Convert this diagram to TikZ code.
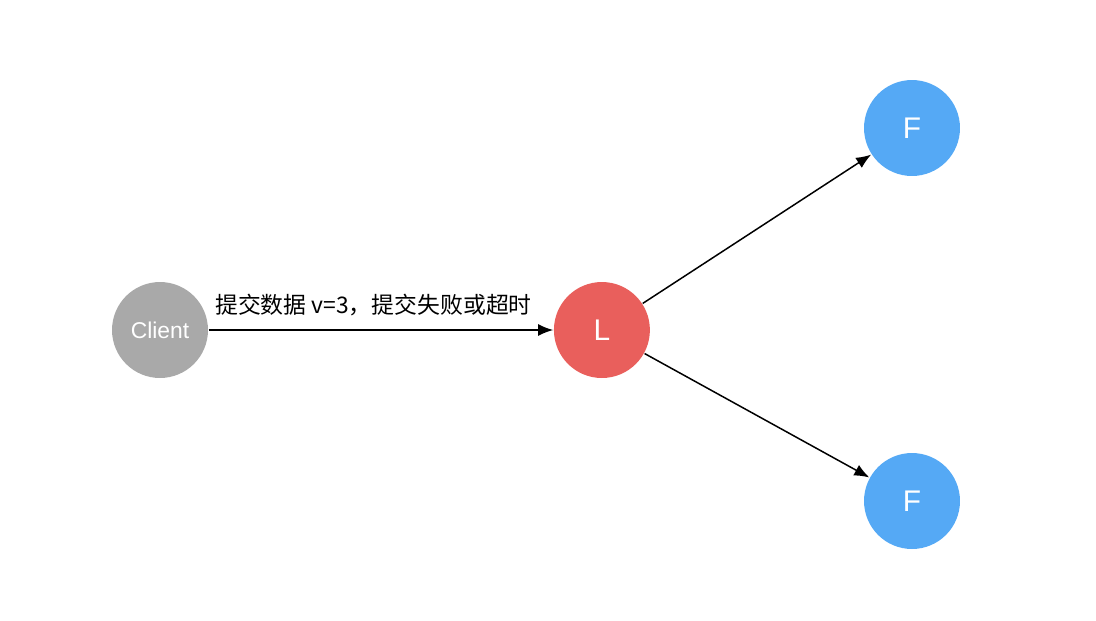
\documentclass[tikz,border=0pt]{standalone}
\usepackage{fontspec}
\setmainfont{Liberation Sans}
\newfontfamily\cjk{Noto Sans CJK SC}
\usetikzlibrary{positioning,arrows.meta}
\definecolor{clientgray}{HTML}{A9A9A9}
\definecolor{leaderred}{HTML}{E95F5C}
\definecolor{followerblue}{HTML}{55A9F5}
\begin{document}
\begin{tikzpicture}[
x=0.02cm, y=-0.02cm, node distance=8.84cm, line width=0.85pt,
member/.style = {circle, minimum size=1.92cm, inner sep=0pt, text=white, font=\fontsize{17pt}{19pt}\selectfont},
msg/.style = {-{Latex[length=3mm, width=2.4mm]}}]
\useasboundingbox (0,0) rectangle (1096,620);
\node[member, fill=clientgray, font=\fontsize{13pt}{15pt}\selectfont] (client) at (160,330) {Client};
\node[member, fill=leaderred] (leader) [right of=client] {L};
\node[member, fill=followerblue] (f1) at (912,128) {F};
\node[member, fill=followerblue] (f2) at (912,501) {F};

\draw[msg] (client) -- node[midway, yshift=0.5cm, xshift=-0.15cm, font=\cjk\fontsize{13pt}{15pt}\selectfont] {提交数据 v=3，提交失败或超时} (leader);
\draw[msg] (leader) -- (f1);
\draw[msg] (leader) -- (f2);
\end{tikzpicture}
\end{document}
